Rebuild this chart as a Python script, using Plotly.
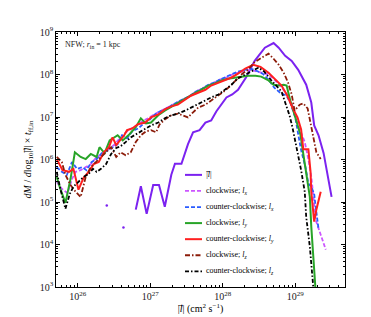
import plotly.graph_objects as go

# ---- data (log10 of |l| in cm^2 s^-1, log10 of dM/dlog|l| * t_ff) ----
iso_logx = [26.40, 26.63]
iso_logy = [4.92, 4.40]

mag_logx = [26.80, 26.87, 26.95, 27.04, 27.12, 27.20, 27.29, 27.34, 27.43, 27.52, 27.59, 27.68,
            27.76, 27.84, 27.91, 27.98, 28.05, 28.13, 28.21, 28.32, 28.44, 28.58, 28.70, 28.77,
            28.86, 28.95, 29.04, 29.15, 29.22, 29.26, 29.32, 29.39, 29.44, 29.50]
mag_logy = [4.82, 5.37, 4.72, 5.40, 5.40, 4.89, 5.64, 5.90, 5.90, 6.36, 6.64, 6.69,
            6.87, 6.92, 7.13, 7.29, 7.46, 7.53, 7.64, 7.93, 8.32, 8.63, 8.74, 8.63,
            8.44, 8.32, 8.11, 7.76, 7.34, 6.80, 6.57, 6.15, 5.64, 5.12]

cwx_logx = [25.71, 25.78, 25.86, 25.92, 25.97, 26.04, 26.11, 26.18, 26.26, 26.35, 26.42, 26.50,
            26.57, 26.65, 26.72, 26.80, 26.89, 26.97, 27.05, 27.13, 27.22, 27.30, 27.38, 27.47,
            27.55, 27.63, 27.72, 27.80, 27.88, 27.96, 28.05, 28.13, 28.21, 28.30, 28.38, 28.46,
            28.55, 28.63, 28.71, 28.79, 28.88, 28.96, 29.04, 29.13, 29.18, 29.22, 29.25, 29.28,
            29.35, 29.42]
cwx_logy = [5.47, 5.31, 5.21, 5.54, 5.71, 5.75, 5.82, 5.89, 6.06, 6.13, 6.24, 6.34,
            6.48, 6.62, 6.71, 6.78, 6.90, 6.97, 7.06, 7.13, 7.20, 7.27, 7.34, 7.43,
            7.50, 7.60, 7.67, 7.74, 7.81, 7.88, 7.93, 8.00, 8.04, 8.09, 8.11, 8.07,
            8.04, 8.00, 7.88, 7.74, 7.55, 7.27, 6.80, 6.41, 6.01, 5.59, 5.12, 4.58,
            4.23, 3.88]

ccwx_logx = [25.71, 25.78, 25.85, 25.92, 25.99, 26.06, 26.12, 26.19, 26.26, 26.33, 26.42, 26.48,
             26.55, 26.61, 26.68, 26.75, 26.83, 26.90, 26.97, 27.05, 27.13, 27.22, 27.30, 27.38,
             27.47, 27.55, 27.63, 27.72, 27.80, 27.88, 27.96, 28.05, 28.13, 28.21, 28.30, 28.38,
             28.46, 28.55, 28.63, 28.71, 28.79, 28.88, 28.93, 29.00, 29.04, 29.08, 29.14, 29.18,
             29.22, 29.26, 29.28, 29.31, 29.32]
ccwx_logy = [5.82, 5.71, 5.64, 5.94, 5.78, 5.82, 5.75, 5.94, 6.01, 6.15, 6.22, 6.29,
             6.36, 6.57, 6.50, 6.66, 6.73, 6.83, 6.90, 7.04, 7.13, 7.20, 7.29, 7.36,
             7.43, 7.50, 7.60, 7.67, 7.76, 7.81, 7.88, 7.95, 8.02, 8.07, 8.11, 8.14,
             8.09, 8.02, 7.88, 7.69, 7.57, 7.50, 7.34, 6.99, 6.59, 6.22, 5.82, 5.43,
             5.36, 5.19, 4.89, 4.58, 4.37]

cwy_logx = [25.71, 25.76, 25.83, 25.90, 25.96, 26.04, 26.11, 26.18, 26.26, 26.30, 26.37, 26.44,
            26.55, 26.62, 26.71, 26.80, 26.87, 26.94, 27.01, 27.11, 27.20, 27.27, 27.34, 27.42,
            27.52, 27.62, 27.70, 27.80, 27.89, 27.98, 28.07, 28.17, 28.25, 28.35, 28.45, 28.53,
            28.63, 28.70, 28.77, 28.84, 28.88, 28.93, 29.00, 29.07, 29.11, 29.15, 29.20, 29.22,
            29.25, 29.28]
cwy_logy = [5.59, 5.31, 4.98, 5.54, 6.17, 6.06, 6.01, 6.13, 6.06, 6.29, 6.15, 6.45,
            6.57, 6.45, 6.59, 6.76, 6.97, 6.85, 6.87, 7.04, 7.15, 7.22, 7.29, 7.39,
            7.48, 7.57, 7.64, 7.74, 7.79, 7.86, 7.90, 7.93, 7.95, 7.97, 7.97, 7.95,
            7.86, 7.76, 7.74, 7.76, 7.74, 7.39, 6.99, 6.59, 6.13, 5.66, 5.12, 4.42,
            3.72, 2.90]

ccwy_logx = [25.71, 25.79, 25.88, 25.94, 26.01, 26.08, 26.15, 26.22, 26.29, 26.36, 26.43, 26.48,
             26.53, 26.58, 26.64, 26.68, 26.75, 26.83, 26.93, 27.01, 27.11, 27.20, 27.29, 27.38,
             27.48, 27.56, 27.66, 27.76, 27.84, 27.94, 28.03, 28.12, 28.21, 28.31, 28.42, 28.52,
             28.63, 28.72, 28.81, 28.89, 28.96, 29.03, 29.08, 29.11, 29.18, 29.21, 29.22, 29.26,
             29.29, 29.35]
ccwy_logy = [6.01, 5.75, 5.71, 5.78, 5.29, 5.57, 5.71, 5.89, 5.94, 6.17, 6.29, 6.52,
             6.34, 6.45, 6.57, 6.69, 6.73, 6.83, 6.87, 6.99, 7.06, 7.18, 7.25, 7.29,
             7.41, 7.50, 7.57, 7.64, 7.74, 7.81, 7.86, 7.93, 8.02, 8.14, 8.23, 8.18,
             8.04, 7.88, 7.74, 7.50, 7.22, 6.99, 6.71, 6.24, 6.24, 5.71, 5.24, 4.54,
             4.82, 5.24]

cwz_logx = [25.71, 25.78, 25.83, 25.90, 25.97, 26.04, 26.11, 26.18, 26.25, 26.32, 26.39, 26.46,
            26.53, 26.59, 26.66, 26.73, 26.80, 26.87, 26.94, 27.01, 27.08, 27.13, 27.20, 27.29,
            27.38, 27.45, 27.52, 27.59, 27.66, 27.76, 27.84, 27.94, 28.03, 28.12, 28.19, 28.27,
            28.35, 28.43, 28.53, 28.63, 28.70, 28.77, 28.84, 28.90, 28.95, 28.99, 29.06, 29.11,
            29.17, 29.21, 29.25, 29.29, 29.35]
cwz_logy = [6.06, 5.94, 5.64, 5.40, 5.24, 5.12, 5.59, 5.82, 5.94, 6.06, 6.17, 6.29,
            6.06, 6.17, 6.10, 6.17, 6.41, 6.57, 6.66, 6.69, 6.64, 6.83, 6.94, 7.04,
            7.08, 7.04, 6.99, 7.11, 7.22, 7.29, 7.39, 7.50, 7.62, 7.76, 7.88, 8.02,
            8.11, 8.28, 8.39, 8.49, 8.37, 8.23, 8.04, 7.81, 7.53, 7.15, 7.29, 7.32,
            7.20, 6.83, 6.50, 6.17, 6.01]

ccwz_logx = [25.71, 25.76, 25.83, 25.89, 25.94, 26.01, 26.08, 26.15, 26.21, 26.26, 26.32, 26.39,
             26.46, 26.53, 26.59, 26.66, 26.73, 26.80, 26.87, 26.94, 27.01, 27.11, 27.20, 27.29,
             27.38, 27.48, 27.56, 27.66, 27.76, 27.84, 27.94, 28.03, 28.12, 28.20, 28.30, 28.39,
             28.49, 28.57, 28.66, 28.74, 28.81, 28.86, 28.92, 28.96, 29.00, 29.04, 29.08, 29.13,
             29.15, 29.20, 29.25]
ccwz_logy = [5.71, 5.31, 4.84, 5.19, 5.36, 5.47, 5.59, 5.66, 5.78, 5.71, 5.78, 5.89,
             6.13, 6.27, 6.31, 6.41, 6.52, 6.59, 6.66, 6.73, 6.80, 6.87, 6.97, 7.04,
             7.08, 7.15, 7.22, 7.29, 7.39, 7.46, 7.53, 7.64, 7.76, 7.90, 8.00, 8.07,
             8.16, 8.07, 7.88, 7.74, 7.60, 7.34, 7.04, 6.76, 6.45, 6.10, 5.75, 5.24,
             4.65, 3.95, 2.95]

names = ["|<i>l</i>\u20d7|",
         "clockwise; <i>l<sub>x</sub></i>",
         "counter-clockwise; <i>l<sub>x</sub></i>",
         "clockwise; <i>l<sub>y</sub></i>",
         "counter-clockwise; <i>l<sub>y</sub></i>",
         "clockwise; <i>l<sub>z</sub></i>",
         "counter-clockwise; <i>l<sub>z</sub></i>"]
colors = ["#7B22F0", "#CC55FF", "#2A5BFF", "#28A428", "#FF2020", "#8C1C0A", "#000000"]
dashes = ["solid", "4px,2px", "4px,2px", "solid", "solid", "5px,2px,1.5px,2px", "4px,2px,1.5px,2px"]
widths = [2, 1.8, 1.8, 2, 2, 1.8, 1.8]
series = [(mag_logx, mag_logy), (cwx_logx, cwx_logy), (ccwx_logx, ccwx_logy),
          (cwy_logx, cwy_logy), (ccwy_logx, ccwy_logy), (cwz_logx, cwz_logy),
          (ccwz_logx, ccwz_logy)]

SERIF = "Liberation Serif, DejaVu Serif, serif"

fig = go.Figure()
for (lx, ly), nm, c, d, w in zip(series, names, colors, dashes, widths):
    fig.add_trace(go.Scatter(x=[10 ** v for v in lx], y=[10 ** v for v in ly],
                             mode="lines", name=nm, showlegend=False,
                             line=dict(color=c, dash=d, width=w)))
fig.add_trace(go.Scatter(x=[10 ** v for v in iso_logx], y=[10 ** v for v in iso_logy],
                         mode="markers", showlegend=False,
                         marker=dict(color=colors[0], size=2.5)))

# manual legend (compact row spacing as in the original)
W, H = 371, 317
ml, mr, mt, mb = 48, 34, 24, 36
pw, ph = W - ml - mr, H - mt - mb
def px2paper(px, py):
    return (px - ml) / pw, (H - mb - py) / ph

shapes, annots = [], []
row_y = [168, 184.2, 200.4, 216.6, 232.8, 249, 265.2]
for nm, c, d, w, ry in zip(names, colors, dashes, widths, row_y):
    x0, y0 = px2paper(177, ry)
    x1, _ = px2paper(194, ry)
    shapes.append(dict(type="line", xref="paper", yref="paper", x0=x0, x1=x1, y0=y0, y1=y0,
                       line=dict(color=c, dash=d, width=w)))
    tx, _ = px2paper(196, ry)
    annots.append(dict(xref="paper", yref="paper", x=tx, y=y0, text=nm, showarrow=False,
                       xanchor="left", yanchor="middle", font=dict(size=8, family=SERIF, color="black")))

ax, ay = px2paper(55, 37)
annots.append(dict(xref="paper", yref="paper", x=ax, y=ay, text="NFW; <i>r</i><sub>in</sub> = 1 kpc",
                   showarrow=False, xanchor="left", yanchor="middle",
                   font=dict(size=8, family=SERIF, color="#222")))

axis_common = dict(type="log", showgrid=False, zeroline=False, showline=True, linecolor="black",
                   linewidth=1.2, mirror="allticks", ticks="inside", ticklen=4, tickcolor="black",
                   dtick=1, exponentformat="power", tickfont=dict(size=8, family=SERIF, color="#222"),
                   minor=dict(ticks="inside", ticklen=2, tickcolor="black", dtick="D1"))

fig.update_layout(
    width=W, height=H, margin=dict(l=ml, r=mr, t=mt, b=mb),
    paper_bgcolor="white", plot_bgcolor="white", showlegend=False,
    xaxis=dict(axis_common, range=[25.70, 29.685],
               title=dict(text="|<i>l</i>\u20d7| (cm<sup>2</sup> s<sup>\u22121</sup>)",
                          font=dict(size=10, family=SERIF, color="black"), standoff=4)),
    yaxis=dict(axis_common, range=[3, 9],
               title=dict(text="<i>dM</i> / <i>d</i>log<sub>10</sub>|<i>l</i>\u20d7| \u00d7 <i>t</i><sub>ff,in</sub>",
                          font=dict(size=10, family=SERIF, color="black"), standoff=6)),
    shapes=shapes, annotations=annots,
)

fig.write_html("out.html")
